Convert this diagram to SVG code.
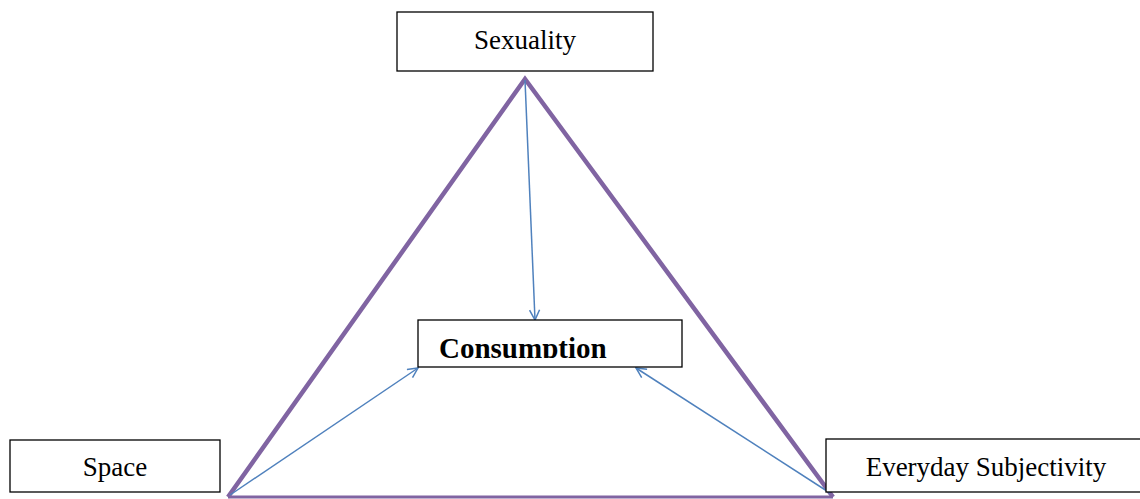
<svg xmlns="http://www.w3.org/2000/svg" width="1140" height="499" viewBox="0 0 1140 499">
<style>
.box{fill:#fff;stroke:#000;stroke-width:1.3}
.t{font-family:"Liberation Serif",serif;font-size:27px;fill:#000;text-anchor:middle}
.b{font-family:"Liberation Serif",serif;font-size:29px;font-weight:bold;fill:#000}
.tri{fill:none;stroke:#8064A2;stroke-width:4.5;stroke-linejoin:miter}
.arr{stroke:#4F81BD;stroke-width:1.5;fill:none}
</style>
<defs>
<marker id="ah" viewBox="0 0 12 12" refX="11" refY="6" markerWidth="12" markerHeight="12" markerUnits="userSpaceOnUse" orient="auto">
<path d="M1,1 L11,6 L1,11" fill="none" stroke="#4F81BD" stroke-width="1.5"/>
</marker>
<clipPath id="cc"><rect x="418" y="320" width="264" height="38"/></clipPath>
</defs>
<rect width="1140" height="499" fill="#fff"/>
<g id="connectors">
<path class="tri" d="M228,497 L525,79 L833,497"/>
<line x1="228" y1="497" x2="833" y2="497" stroke="#8064A2" stroke-width="3"/>
<line class="arr" x1="525" y1="80" x2="535" y2="320" marker-end="url(#ah)"/>
<line class="arr" x1="230" y1="495" x2="418" y2="368" marker-end="url(#ah)"/>
<line class="arr" x1="830" y1="493" x2="636" y2="368" marker-end="url(#ah)"/>
</g>
<g id="sexuality">
<rect class="box" x="397" y="12" width="256" height="59"/>
<text class="t" x="525" y="49">Sexuality</text>
</g>
<g id="consumption">
<rect class="box" x="418" y="320" width="264" height="47"/>
<text class="b" x="439" y="358" clip-path="url(#cc)">Consumption</text>
</g>
<g id="space">
<rect class="box" x="10" y="440" width="210" height="52"/>
<text class="t" x="115" y="476">Space</text>
</g>
<g id="everyday">
<rect class="box" x="826" y="439" width="320" height="53"/>
<text class="t" x="986" y="476">Everyday Subjectivity</text>
</g>
</svg>
